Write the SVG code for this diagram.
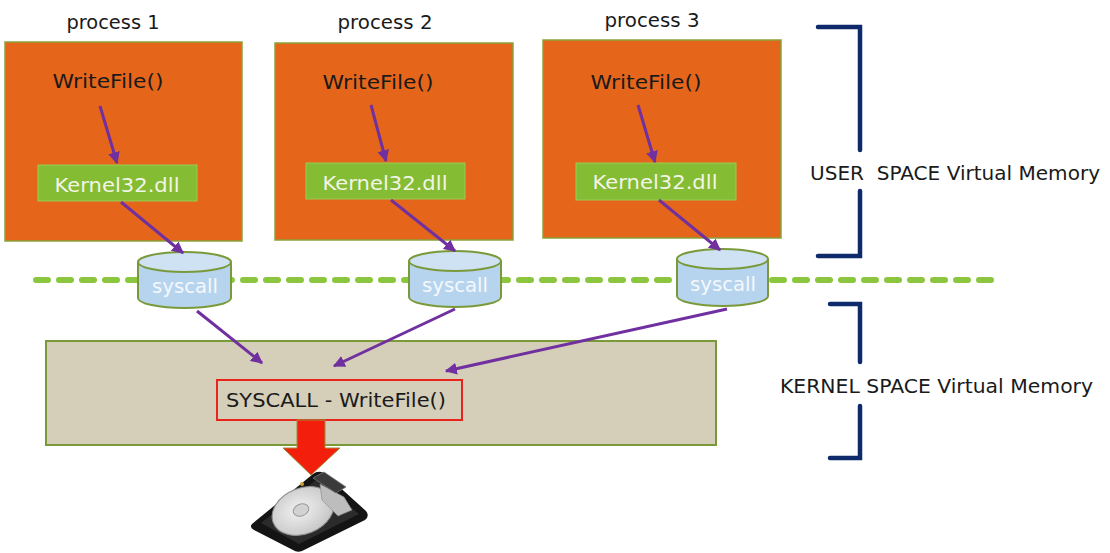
<svg xmlns="http://www.w3.org/2000/svg" width="1110" height="553" viewBox="0 0 1110 553">
  <style>
    .lbl { font-family: "DejaVu Sans", "Liberation Sans", sans-serif; fill: #1a1a1a; }
    .proc { fill: #E5661B; stroke: #8AA23A; stroke-width: 1.5; }
    .dll { fill: #84BC34; stroke: #9CCB55; stroke-width: 1; }
    .dlltxt { font-family: "DejaVu Sans", "Liberation Sans", sans-serif; fill: #F2F5E6; font-size: 19px; }
    .cyl { fill: #B7D4EE; stroke: #7A9A3A; stroke-width: 2; }
    .cyltop { fill: #CFE2F4; stroke: #7A9A3A; stroke-width: 2; }
    .cyltxt { font-family: "DejaVu Sans", "Liberation Sans", sans-serif; fill: #F4F8FC; font-size: 19px; }
    .flow { stroke: #7030A0; stroke-width: 3; fill: none; marker-end: url(#ah); }
    .brk { stroke: #0E2A6A; stroke-width: 4.5; fill: none; stroke-linecap: round; stroke-linejoin: miter; }
  </style>
  <defs>
    <marker id="ah" viewBox="0 0 10 10" refX="9" refY="5" markerWidth="4" markerHeight="4" markerUnits="strokeWidth" orient="auto">
      <path d="M0,0 L10,5 L0,10 z" fill="#7030A0"/>
    </marker>
    <radialGradient id="platter" cx="0.45" cy="0.45" r="0.6">
      <stop offset="0" stop-color="#F2F2F2"/>
      <stop offset="1" stop-color="#C4C4C4"/>
    </radialGradient>
  </defs>

  <rect width="1110" height="553" fill="#FFFFFF"/>

  <!-- user / kernel boundary -->
  <line id="boundary" x1="36" y1="280" x2="995" y2="280" stroke="#8CC63F" stroke-width="6" stroke-linecap="round" stroke-dasharray="12 11"/>

  <!-- kernel space area -->
  <g id="kernel">
    <rect x="46" y="341" width="670" height="104" fill="#D5CEB8" stroke="#7A9A3A" stroke-width="2"/>
  </g>

  <!-- process 1 -->
  <g id="process1">
    <text class="lbl" x="113" y="29" font-size="19" text-anchor="middle" textLength="93" lengthAdjust="spacingAndGlyphs">process 1</text>
    <rect class="proc" x="5" y="42" width="237" height="199"/>
    <text class="lbl" x="108" y="88" font-size="20" text-anchor="middle" textLength="111" lengthAdjust="spacingAndGlyphs">WriteFile()</text>
    <rect class="dll" x="38" y="165" width="159" height="36"/>
    <text class="dlltxt" x="117" y="192" text-anchor="middle" textLength="125" lengthAdjust="spacingAndGlyphs">Kernel32.dll</text>
  </g>

  <!-- process 2 -->
  <g id="process2">
    <text class="lbl" x="385" y="29" font-size="19" text-anchor="middle" textLength="95" lengthAdjust="spacingAndGlyphs">process 2</text>
    <rect class="proc" x="275" y="43" width="238" height="197"/>
    <text class="lbl" x="378" y="89" font-size="20" text-anchor="middle" textLength="111" lengthAdjust="spacingAndGlyphs">WriteFile()</text>
    <rect class="dll" x="306" y="163" width="159" height="36"/>
    <text class="dlltxt" x="385" y="190" text-anchor="middle" textLength="125" lengthAdjust="spacingAndGlyphs">Kernel32.dll</text>
  </g>

  <!-- process 3 -->
  <g id="process3">
    <text class="lbl" x="652" y="27" font-size="19" text-anchor="middle" textLength="95" lengthAdjust="spacingAndGlyphs">process 3</text>
    <rect class="proc" x="543" y="40" width="238" height="198"/>
    <text class="lbl" x="646" y="89" font-size="20" text-anchor="middle" textLength="111" lengthAdjust="spacingAndGlyphs">WriteFile()</text>
    <rect class="dll" x="576" y="163" width="160" height="37"/>
    <text class="dlltxt" x="655" y="189" text-anchor="middle" textLength="125" lengthAdjust="spacingAndGlyphs">Kernel32.dll</text>
  </g>

  <!-- syscall gates -->
  <g id="syscall1">
    <path class="cyl" d="M138,262 L138,298 A46.5,10 0 0 0 231,298 L231,262"/>
    <ellipse class="cyltop" cx="184.5" cy="262" rx="46.5" ry="10"/>
    <text class="cyltxt" x="185" y="293" text-anchor="middle" textLength="66" lengthAdjust="spacingAndGlyphs">syscall</text>
  </g>
  <g id="syscall2">
    <path class="cyl" d="M409,261 L409,297 A46,10 0 0 0 501,297 L501,261"/>
    <ellipse class="cyltop" cx="455" cy="261" rx="46" ry="10"/>
    <text class="cyltxt" x="455" y="292" text-anchor="middle" textLength="66" lengthAdjust="spacingAndGlyphs">syscall</text>
  </g>
  <g id="syscall3">
    <path class="cyl" d="M677,259 L677,296 A45.5,10 0 0 0 768,296 L768,259"/>
    <ellipse class="cyltop" cx="722.5" cy="259" rx="45.5" ry="10"/>
    <text class="cyltxt" x="723" y="291" text-anchor="middle" textLength="66" lengthAdjust="spacingAndGlyphs">syscall</text>
  </g>

  <!-- kernel handler -->
  <g id="handler">
    <rect x="217" y="380" width="245" height="40" fill="#D5CEB8" stroke="#E8241C" stroke-width="2"/>
    <text class="lbl" x="336" y="407" font-size="20" text-anchor="middle" textLength="220" lengthAdjust="spacingAndGlyphs">SYSCALL - WriteFile()</text>
  </g>

  <!-- call flow -->
  <g id="connectors">
    <line class="flow" x1="100" y1="106" x2="117" y2="163"/>
    <line class="flow" x1="121" y1="202" x2="183" y2="253"/>
    <line class="flow" x1="371" y1="105" x2="386" y2="161"/>
    <line class="flow" x1="391" y1="200" x2="455" y2="251"/>
    <line class="flow" x1="638" y1="105" x2="655" y2="162"/>
    <line class="flow" x1="659" y1="200" x2="720" y2="250"/>
    <line class="flow" x1="197" y1="311" x2="262" y2="363"/>
    <line class="flow" x1="455" y1="309" x2="334" y2="366"/>
    <line class="flow" x1="727" y1="309" x2="446" y2="371"/>
  </g>

  <!-- write to disk -->
  <g id="disk-arrow">
    <path d="M297,420 L325,420 L325,448 L340,448 L311,475 L283,448 L297,448 Z" fill="#F41E0C" stroke="#9A8F3A" stroke-width="1"/>
  </g>

  <g id="disk">
    <!-- chassis -->
    <path d="M252,524 L313,474 Q318,470 324,473 L366,511 Q370,516 365,520 L302,551 Q297,553 293,550 L254,530 Q249,527 252,524 Z" fill="#141414"/>
    <path d="M261,523 L316,480 L359,514 L299,544 Z" fill="#2b2b2b"/>
    <!-- platter -->
    <ellipse cx="303" cy="511" rx="32" ry="23" transform="rotate(-22 303 511)" fill="url(#platter)" stroke="#8a8a8a" stroke-width="1"/>
    <ellipse cx="301" cy="510" rx="8" ry="6" transform="rotate(-22 301 510)" fill="#D2D2D2" stroke="#9a9a9a" stroke-width="1"/>
    <!-- head assembly -->
    <path d="M320,484 L344,497 L352,510 L338,516 L322,500 Z" fill="#BDBDBD" stroke="#888" stroke-width="0.6"/>
    <path d="M313,478 L324,472 L346,487 L336,493 Z" fill="#3a3a3a" stroke="#777" stroke-width="0.8"/>
    <circle cx="302" cy="484" r="2" fill="#C8A040"/>
  </g>

  <!-- address space brackets -->
  <g id="user-space">
    <path class="brk" d="M818,27 L860,27 L860,150"/>
    <path class="brk" d="M860,191 L860,256 L818,256"/>
    <text class="lbl" x="810" y="180" font-size="19" textLength="290" lengthAdjust="spacingAndGlyphs" xml:space="preserve">USER  SPACE Virtual Memory</text>
  </g>
  <g id="kernel-space">
    <path class="brk" d="M830,304 L860,304 L860,362"/>
    <path class="brk" d="M860,406 L860,458 L830,458"/>
    <text class="lbl" x="780" y="393" font-size="19" textLength="313" lengthAdjust="spacingAndGlyphs">KERNEL SPACE Virtual Memory</text>
  </g>
</svg>
